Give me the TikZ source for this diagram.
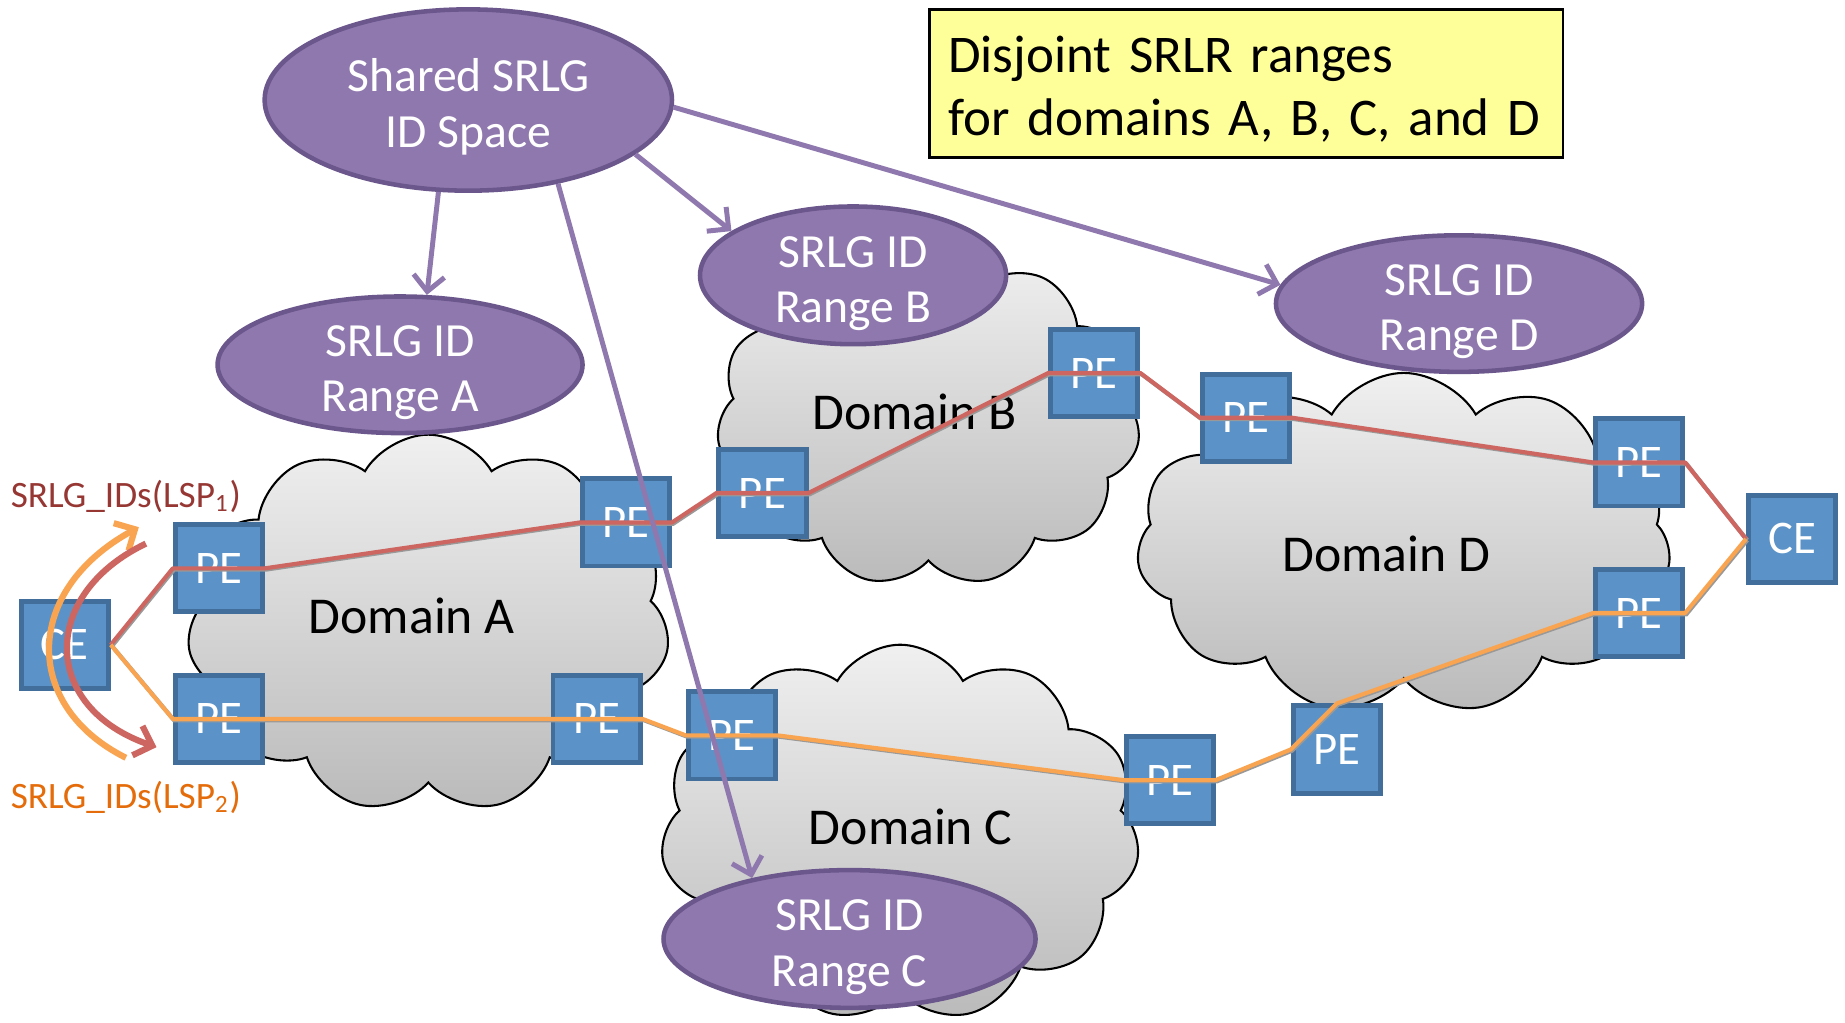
\documentclass[tikz,border=0pt]{standalone}
\usepackage{fontspec}
\setmainfont{Carlito}
\usetikzlibrary{arrows.meta,shapes}

\definecolor{idfill}{HTML}{8F78AE}
\definecolor{iddraw}{HTML}{6B578C}
\definecolor{pefill}{HTML}{5B93C8}
\definecolor{pedraw}{HTML}{426E9B}
\definecolor{lspone}{HTML}{CD6660}
\definecolor{lsptwo}{HTML}{F9A450}
\definecolor{lsponetxt}{HTML}{963734}
\definecolor{lsptwotxt}{HTML}{E46C0A}
\definecolor{notefill}{HTML}{FFFF99}

% two centred lines, set a little below the middle
\newcommand{\twolines}[2]{\rule{0pt}{12pt}#1\\#2\rule[-2.6pt]{0pt}{2.6pt}}

\tikzset{
  domcloud/.style={cloud, cloud puffs=11, cloud puff arc=120, aspect=1.3, draw=black, line width=0.5pt,
    top color=black!6, bottom color=black!27, inner sep=0pt},
  domlabel/.style={font=\fontsize{12.5}{15}\selectfont},
  router/.style={rectangle, draw=pedraw, fill=pefill, line width=1.2pt, minimum size=0.74cm,
    inner sep=0pt, text=white, font=\fontsize{11.3}{13}\selectfont},
  idspace/.style={ellipse, draw=iddraw, fill=idfill, line width=1.1pt, inner xsep=0pt, inner ysep=-5pt,
    text=white, align=center, font=\fontsize{11.5}{13.4}\selectfont},
  lsp/.style={line width=1pt, line join=round,
    preaction={draw=black!40, line width=1pt, transform canvas={xshift=0.3pt,yshift=-0.3pt}}},
  assign/.style={->, draw=idfill, line width=1.2pt},
  >={Straight Barb[length=3.8pt,width=7.5pt]}
}

\begin{document}
\begin{tikzpicture}[x=0.01cm, y=-0.01cm]
  \useasboundingbox (0,0) rectangle (1568,869);

  % domains
  \node[domcloud, minimum width=4.1cm, minimum height=3.21cm] (cloudA) at (364,530) {};
  \node[domcloud, minimum width=3.6cm, minimum height=2.85cm] (cloudB) at (789,356) {};
  \node[domcloud, minimum width=4.07cm, minimum height=3.2cm] (cloudC) at (765,708) {};
  \node[domcloud, minimum width=4.54cm, minimum height=2.9cm] (cloudD) at (1193,462) {};
  \node[domlabel] (domA) at (350,523) {Domain A};
  \node[domlabel] (domB) at (777,350) {Domain B};
  \node[domlabel] (domC) at (774,703) {Domain C};
  \node[domlabel] (domD) at (1178,471) {Domain D};

  % edge routers
  \node[router] (ceL) at (55,548) {CE};
  \node[router] (peA1) at (186,483) {PE};
  \node[router] (peA2) at (186,611) {PE};
  \node[router] (peA3) at (532,444) {PE};
  \node[router] (peA4) at (507,611) {PE};
  \node[router] (peB1) at (648,419) {PE};
  \node[router] (peB2) at (930,317) {PE};
  \node[router] (peC1) at (622,625) {PE};
  \node[router] (peC2) at (994,663) {PE};
  \node[router] (peC3) at (1136,637) {PE};
  \node[router] (peD1) at (1059,355) {PE};
  \node[router] (peD2) at (1393,393) {PE};
  \node[router] (peD3) at (1393,521) {PE};
  \node[router] (ceR) at (1523,458) {CE};

  % LSP 1 and LSP 2
  \draw[lsp, lspone] (ceL.east) -- (peA1.west) -- (peA1.east) -- (peA3.west) -- (peA3.east)
    -- (peB1.west) -- (peB1.east) -- (peB2.west) -- (peB2.east) -- (peD1.west) -- (peD1.east)
    -- (peD2.west) -- (peD2.east) -- (ceR.west);
  \draw[lsp, lsptwo] (ceL.east) -- (peA2.west) -- (peA2.east) -- (peA4.west) -- (peA4.east)
    -- (peC1.west) -- (peC1.east) -- (peC2.west) -- (peC2.east) -- (peC3.west) -- (peC3.north)
    -- (peD3.west) -- (peD3.east) -- (ceR.west);

  % SRLG ID ranges
  \node[idspace, minimum width=3.46cm, minimum height=1.54cm] (shared) at (398,85) {\twolines{Shared SRLG}{ID Space}};
  \node[idspace, minimum width=3.1cm, minimum height=1.16cm] (rangeA) at (340,310) {\twolines{SRLG ID}{Range A}};
  \node[idspace, minimum width=2.6cm, minimum height=1.17cm] (rangeB) at (725,234) {\twolines{SRLG ID}{Range B}};
  \node[idspace, minimum width=3.16cm, minimum height=1.17cm] (rangeC) at (722,798) {\twolines{SRLG ID}{Range C}};
  \node[idspace, minimum width=3.11cm, minimum height=1.16cm] (rangeD) at (1240,258) {\twolines{SRLG ID}{Range D}};

  \draw[assign] (shared.-108) -- (rangeA.69);
  \draw[assign] (shared.-18) -- (rangeB.160);
  \draw[assign] (shared.-2) -- (rangeD.174);
  \draw[assign] (shared.-43) -- (rangeC.148);

  \node[draw=black, fill=notefill, line width=0.6pt, minimum height=1.25cm, text width=5.06cm,
    inner xsep=0.16cm, align=left, font=\fontsize{12.8}{15}\selectfont] (note) at (1059,71)
    {\rule{0pt}{12pt}Disjoint SRLR ranges\\for domains A, B, C, and D\rule[-2.1pt]{0pt}{2.1pt}};

  % SRLG_IDs per LSP
  \node[text=lsponetxt, font=\fontsize{9}{11}\selectfont] (lblOne) at (107,422) {SRLG\_IDs(LSP\textsubscript{1})};
  \node[text=lsptwotxt, font=\fontsize{9}{11}\selectfont] (lblTwo) at (107,678) {SRLG\_IDs(LSP\textsubscript{2})};
  \coordinate (twoTail) at (107,644);
  \coordinate (twoHead) at (118,448);
  \coordinate (oneTail) at (124,462);
  \coordinate (oneHead) at (133,635);
  \draw[->, lsptwo, line width=1.5pt] (twoTail) .. controls (19,600) and (19,502) .. (twoHead);
  \draw[->, lspone, line width=1.5pt] (oneTail) .. controls (34,505) and (34,601) .. (oneHead);
\end{tikzpicture}
\end{document}
